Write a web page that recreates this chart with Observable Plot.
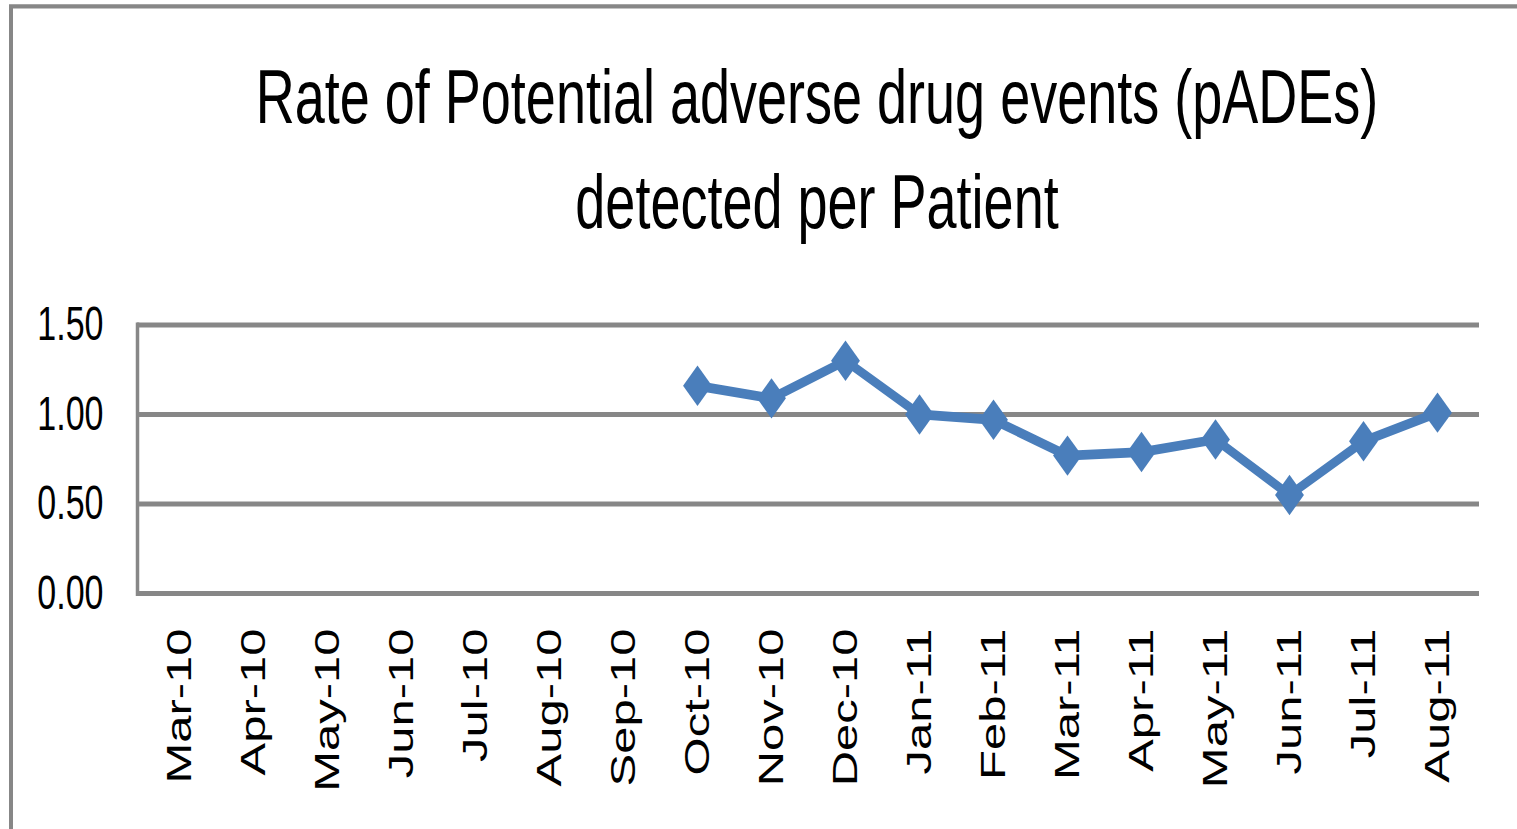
<!DOCTYPE html>
<html>
<head>
<meta charset="utf-8">
<script src="https://cdn.jsdelivr.net/npm/d3@7"></script>
<script src="https://cdn.jsdelivr.net/npm/@observablehq/plot@0.6"></script>
<style>
  html, body { margin: 0; padding: 0; background: #fff; overflow: hidden; width: 1517px; height: 829px; }
  #stage {
    position: absolute; left: 0; top: 0; width: 1517px; height: 592px;
    transform: scale(1, 1.4); transform-origin: 0 0;
    font-family: "Liberation Sans", Arial, sans-serif;
  }
  #frame {
    position: absolute; left: 9px; top: 2.9px; width: 2000px; height: 2000px;
    border-style: solid; border-color: #878787; border-width: 3.6px 4px 4px 4px;
    box-sizing: border-box;
  }
  #title {
    position: relative; margin-left: 117px; width: 1400px; height: 180px;
    box-sizing: border-box; padding-top: 32px;
    text-align: center; font-size: 54px; line-height: 75px; color: #000;
  }
  #chart { position: relative; }
</style>
</head>
<body>
<div id="stage">
  <div id="frame"></div>
  <div id="title">Rate of Potential adverse drug events (pADEs)<br>detected per Patient</div>
  <div id="chart"></div>
</div>
<script>
const months = ["Mar-10","Apr-10","May-10","Jun-10","Jul-10","Aug-10","Sep-10","Oct-10","Nov-10","Dec-10",
                "Jan-11","Feb-11","Mar-11","Apr-11","May-11","Jun-11","Jul-11","Aug-11"];
const rates = [null,null,null,null,null,null,null,1.16,1.09,1.30,1.00,0.97,0.77,0.79,0.86,0.55,0.85,1.01];
const yTicks = [0, 0.5, 1.0, 1.5];

const data = months.map((m, i) => ({month: m, rate: rates[i]}));
const present = data.filter(d => d.rate != null);

const grid = "#878787";
const blue = "#4a7ebb";

const chart = Plot.plot({
  width: 1517,
  height: 412,
  marginTop: 51.6,
  marginBottom: 168.6,
  marginLeft: 137,
  marginRight: 38,
  style: {fontFamily: '"Liberation Sans", Arial, sans-serif', color: "#000", background: "transparent", overflow: "visible"},
  x: {type: "band", domain: months, padding: 0, label: null},
  y: {domain: [0, 1.5], label: null},
  marks: [
    Plot.ruleY(yTicks, {stroke: grid, strokeWidth: 3.6}),
    Plot.frame({anchor: "left", stroke: grid, strokeWidth: 3.5}),
    Plot.axisY({ticks: yTicks, tickFormat: d3.format(".2f"), tickSize: 0, tickPadding: 34, fontSize: 34, label: null}),
    Plot.axisX({tickSize: 0, tickPadding: 25, tickRotate: -90, fontSize: 35, label: null}),
    Plot.line(data, {x: "month", y: "rate", stroke: blue, strokeWidth: 7, strokeLinejoin: "round"}),
    Plot.dot(present, {x: "month", y: "rate", symbol: "diamond2", r: 13, fill: blue, stroke: "none"})
  ]
});
document.getElementById("chart").appendChild(chart);
</script>
</body>
</html>
